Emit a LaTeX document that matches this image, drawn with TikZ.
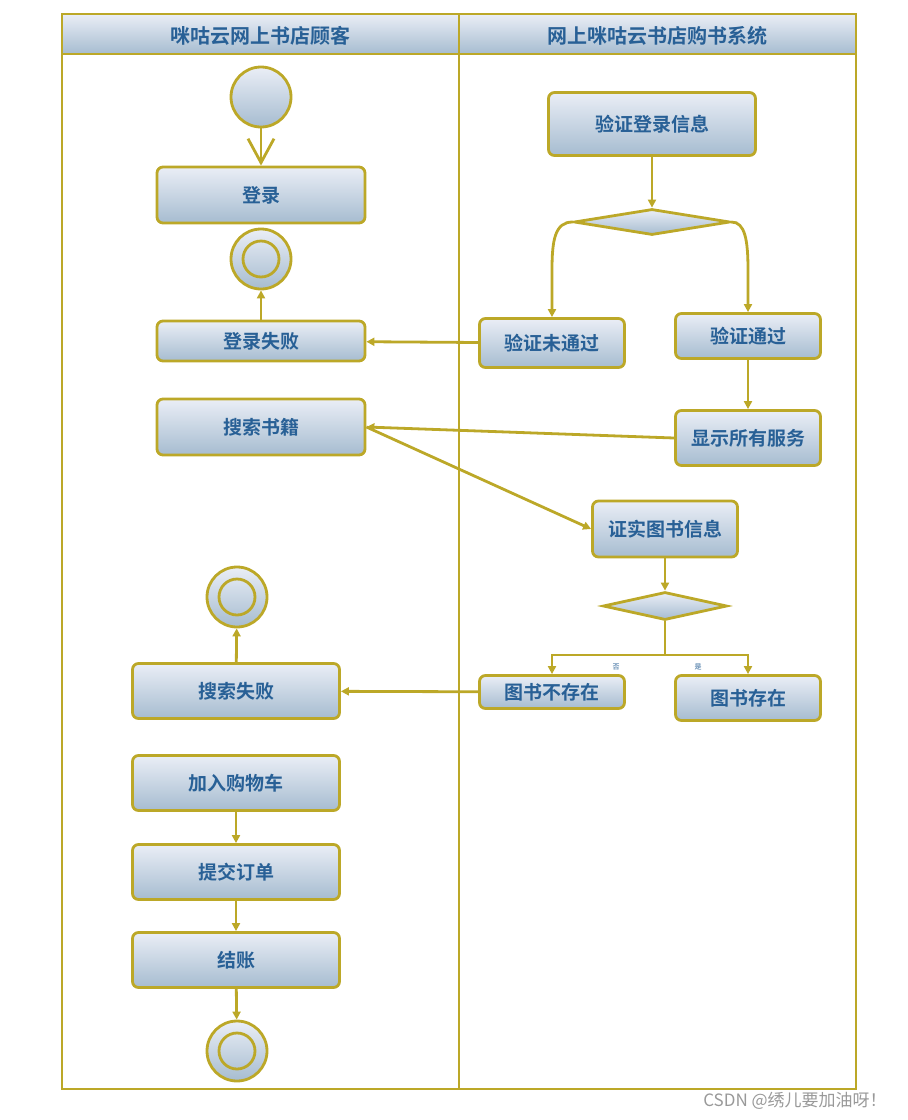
\documentclass[tikz,border=0pt]{standalone}
\usepackage{fontspec}
\newfontfamily\cjk{Noto Sans CJK SC}[BoldFont={Noto Sans CJK SC Bold}]
\usetikzlibrary{arrows.meta,shapes.geometric}
\definecolor{gold}{RGB}{188,168,40}
\definecolor{txtblue}{RGB}{40,96,150}
\definecolor{topblue}{RGB}{234,238,246}
\definecolor{botblue}{RGB}{166,188,208}
\tikzset{
  act/.style={draw=gold, line width=2.8pt, rounded corners=6pt, top color=topblue, bottom color=botblue,
    font=\cjk\bfseries\fontsize{19}{19}\selectfont, text=txtblue, inner sep=0pt},
  startnode/.style={circle, draw=gold, line width=2.8pt, top color=topblue, bottom color=botblue, minimum size=60pt, inner sep=0pt},
  endnode/.style={startnode, path picture={\draw[gold, line width=2.8pt] (path picture bounding box.center) circle (18pt);}},
  choice/.style={diamond, draw=gold, line width=2.8pt, top color=topblue, bottom color=botblue, inner sep=0pt, aspect=6},
  flow/.style={draw=gold, line width=2.8pt, -{Triangle[length=8pt,width=8pt]}},
  lane/.style={font=\cjk\bfseries\fontsize{20}{20}\selectfont, text=txtblue}
}
\begin{document}
\begin{tikzpicture}[x=1pt,y=-1pt]
\useasboundingbox (0,0) rectangle (908,1120);
% swimlanes
\shade[top color=topblue, bottom color=botblue] (62,14) rectangle (856,54);
\draw[gold, line width=2.8pt] (62,14) rectangle (856,1089);
\draw[gold, line width=2.8pt] (62,54) -- (856,54);
\draw[gold, line width=2.8pt] (459,14) -- (459,1089);
\node[lane] (laneL) at (260,36) {咪咕云网上书店顾客};
\node[lane] (laneR) at (657,36) {网上咪咕云书店购书系统};
% customer side
\node[startnode] (start) at (261,97) {};
\node[act, minimum width=208pt, minimum height=56pt] (login) at (261,195) {登录};
\node[endnode] (endA) at (261,259) {};
\node[act, minimum width=208pt, minimum height=40pt] (loginfail) at (261,341) {登录失败};
\node[act, minimum width=208pt, minimum height=56pt] (search) at (261,427) {搜索书籍};
\node[endnode] (endB) at (237,597) {};
\node[act, minimum width=207pt, minimum height=55pt] (searchfail) at (236,691) {搜索失败};
\node[act, minimum width=207pt, minimum height=55pt] (cart) at (236,783) {加入购物车};
\node[act, minimum width=207pt, minimum height=55pt] (order) at (236,872) {提交订单};
\node[act, minimum width=207pt, minimum height=55pt] (pay) at (236,960) {结账};
\node[endnode] (endC) at (237,1051) {};
% system side
\node[act, minimum width=207pt, minimum height=63pt] (check) at (652,124) {验证登录信息};
\node[choice, minimum width=156pt, minimum height=26pt] (decA) at (652,222) {};
\node[act, minimum width=145pt, minimum height=49pt] (reject) at (552,343) {验证未通过};
\node[act, minimum width=145pt, minimum height=45pt] (accept) at (748,336) {验证通过};
\node[act, minimum width=145pt, minimum height=55pt] (services) at (748,438) {显示所有服务};
\node[act, minimum width=145pt, minimum height=56pt] (bookinfo) at (665,529) {证实图书信息};
\node[choice, minimum width=124pt, minimum height=28pt] (decB) at (665,606) {};
\node[act, minimum width=145pt, minimum height=33pt] (nobook) at (552,692) {图书不存在};
\node[act, minimum width=145pt, minimum height=45pt] (hasbook) at (748,698) {图书存在};
\node[font=\cjk\fontsize{7}{7}\selectfont, text=txtblue] (lblno) at (616,667) {否};
\node[font=\cjk\fontsize{7}{7}\selectfont, text=txtblue] (lblyes) at (698,667) {是};
% connectors
\draw[draw=gold, line width=2.8pt, -{Straight Barb[length=24pt,width=26pt]}] (start) -- (login);
\draw[flow] (loginfail) -- (endA);
\draw[flow] (check) -- (decA);
\draw[flow] (decA.west) .. controls (555,222) and (552,240) .. (552,270) -- (reject.north);
\draw[flow] (decA.east) .. controls (745,222) and (748,240) .. (748,270) -- (accept.north);
\draw[flow] (reject) -- (loginfail);
\draw[flow] (accept) -- (services);
\draw[flow] (services.west) -- (search.east);
\draw[flow] (search.east) -- (bookinfo.west);
\draw[flow] (bookinfo) -- (decB);
\draw[flow] (decB.south) -- (665,655) -| (nobook.north);
\draw[flow] (665,655) -| (hasbook.north);
\draw[flow] (nobook) -- (searchfail);
\draw[flow] (searchfail) -- (endB);
\draw[flow] (cart) -- (order);
\draw[flow] (order) -- (pay);
\draw[flow] (pay) -- (endC);
\node[font=\cjk\fontsize{17}{17}\selectfont, text=gray!80] (mark) at (795,1101) {CSDN @绣儿要加油呀！};
\end{tikzpicture}
\end{document}
